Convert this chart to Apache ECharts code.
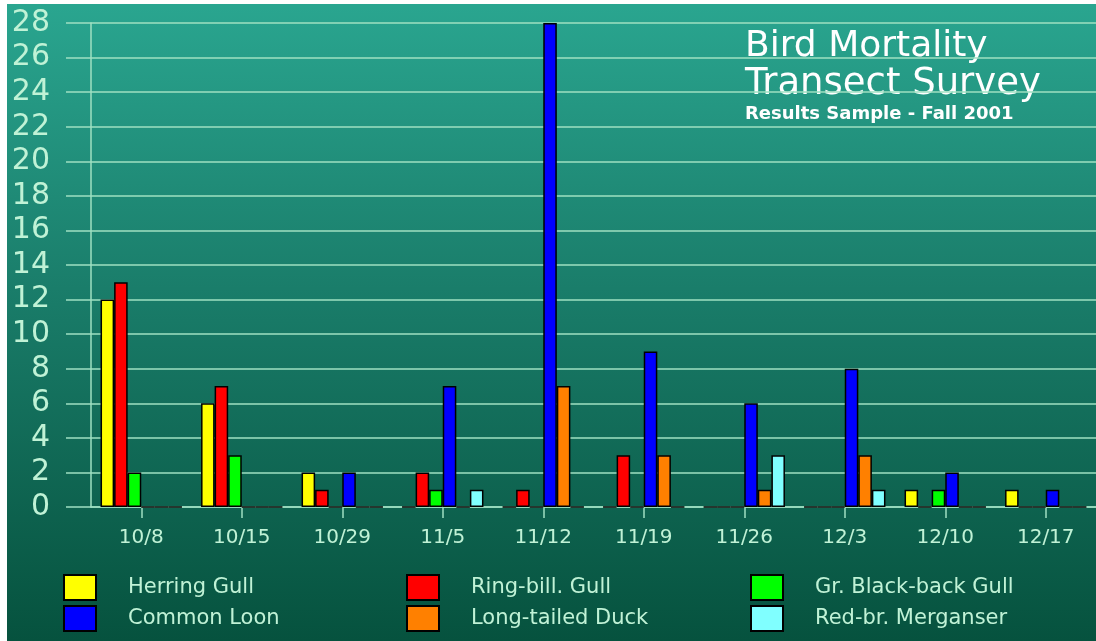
<!DOCTYPE html>
<html>
<head>
<meta charset="utf-8">
<script src="https://cdn.jsdelivr.net/npm/echarts@6/dist/echarts.min.js"></script>
<style>
  html, body { margin: 0; padding: 0; background: #fff; }
  #chart { width: 1096px; height: 641px; }
</style>
</head>
<body>
<div id="chart"></div>
<script>
const dates = ["10/8", "10/15", "10/29", "11/5", "11/12", "11/19", "11/26", "12/3", "12/10", "12/17"]
const herringGull = [12, 6, 2, 0, 0, 0, 0, 0, 1, 1]
const ringBillGull = [13, 7, 1, 2, 1, 3, 0, 0, 0, 0]
const blackBackGull = [2, 3, 0, 1, 0, 0, 0, 0, 1, 0]
const commonLoon = [0, 0, 2, 7, 28, 9, 6, 8, 2, 1]
const longTailedDuck = [0, 0, 0, 0, 7, 3, 1, 3, 0, 0]
const merganser = [0, 0, 0, 1, 0, 0, 3, 1, 0, 0]

const mint = "#c0f2d6"
const gridColor = "#9fe0c2"

const seriesList = [
  { name: "Herring Gull", color: "#ffff00", data: herringGull },
  { name: "Ring-bill. Gull", color: "#ff0000", data: ringBillGull },
  { name: "Gr. Black-back Gull", color: "#00ff00", data: blackBackGull },
  { name: "Common Loon", color: "#0000ff", data: commonLoon },
  { name: "Long-tailed Duck", color: "#ff8000", data: longTailedDuck },
  { name: "Red-br. Merganser", color: "#80ffff", data: merganser }
]

// one legend per item so the 3x2 layout stays put
const legendLefts = [58, 401, 745]
const legendTops = [569, 600]

function makeLegend(name, i) {
  return {
    left: legendLefts[i % 3],
    top: legendTops[Math.floor(i / 3)],
    itemWidth: 32,
    itemHeight: 25,
    icon: "rect",
    selectedMode: false,
    data: [name],
    textStyle: {
      color: mint,
      fontFamily: "DejaVu Sans",
      fontSize: 21,
      padding: [0, 0, 0, 27]
    }
  }
}

const chart = echarts.init(document.getElementById("chart"))

chart.setOption({
  animation: false,
  backgroundColor: {
    type: "linear",
    x: 0, y: 0, x2: 0, y2: 1,
    colorStops: [
      { offset: 0, color: "#2aa690" },
      { offset: 0.45, color: "#1a7d6a" },
      { offset: 1, color: "#06523e" }
    ]
  },
  graphic: [
    { type: "rect", shape: { x: 0, y: 0, width: 7, height: 641 }, style: { fill: "#fff" }, z: 100 },
    { type: "rect", shape: { x: 0, y: 0, width: 1096, height: 4 }, style: { fill: "#fff" }, z: 100 },
    {
      type: "text", left: 745, top: 29,
      style: { text: "Bird Mortality", fill: "#fff", font: "36px 'DejaVu Sans'" }
    },
    {
      type: "text", left: 745, top: 66,
      style: { text: "Transect Survey", fill: "#fff", font: "37px 'DejaVu Sans'" }
    },
    {
      type: "text", left: 745, top: 105,
      style: { text: "Results Sample - Fall 2001", fill: "#fff", font: "bold 18px 'DejaVu Sans'" }
    }
  ],
  legend: seriesList.map((s, i) => makeLegend(s.name, i)),
  grid: {
    left: 91,
    right: 0,
    top: 23,
    bottom: 134
  },
  xAxis: {
    type: "category",
    data: dates,
    axisLine: { show: true, lineStyle: { color: gridColor, width: 1.5 } },
    axisTick: { show: true, alignWithLabel: true, length: 11, lineStyle: { color: gridColor, width: 1.5 } },
    axisLabel: { color: mint, fontFamily: "DejaVu Sans", fontSize: 20, margin: 21 }
  },
  yAxis: {
    type: "value",
    min: 0,
    max: 28,
    interval: 2,
    axisLine: { show: true, lineStyle: { color: gridColor, width: 1.5 } },
    axisTick: { show: true, length: 25, lineStyle: { color: gridColor, width: 1.5 } },
    splitLine: { show: true, lineStyle: { color: gridColor, width: 1.5 } },
    axisLabel: { color: mint, fontFamily: "DejaVu Sans", fontSize: 30, margin: 41 }
  },
  series: seriesList.map(s => ({
    name: s.name,
    type: "bar",
    data: s.data,
    barGap: "0%",
    barCategoryGap: "19%",
    itemStyle: { color: s.color, borderColor: "#000", borderWidth: 1.5 }
  }))
})
</script>
</body>
</html>
